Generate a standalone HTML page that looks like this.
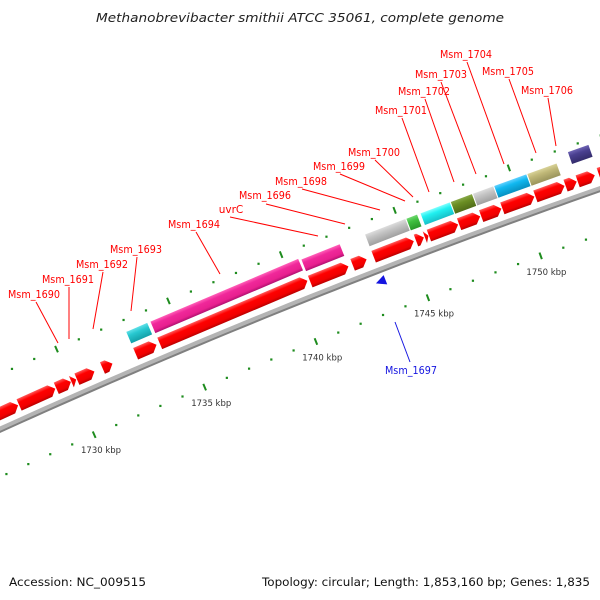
<!DOCTYPE html>
<html><head><meta charset="utf-8"><style>
html,body{margin:0;padding:0;background:#fff;}
svg{display:block;font-family:"DejaVu Sans","Liberation Sans",sans-serif;}
</style></head><body>
<svg id="chart" width="600" height="600" viewBox="0 0 600 600">
<defs>
<linearGradient id="g-red" x1="0" y1="0" x2="0" y2="1"><stop offset="0" stop-color="#ff5a5a"/><stop offset="0.3" stop-color="#ff0000"/><stop offset="0.75" stop-color="#f00000"/><stop offset="1" stop-color="#b80000"/></linearGradient>
<linearGradient id="g-pink" x1="0" y1="0" x2="0" y2="1"><stop offset="0" stop-color="#ff60b8"/><stop offset="0.3" stop-color="#f0289a"/><stop offset="0.75" stop-color="#e8208f"/><stop offset="1" stop-color="#b01070"/></linearGradient>
<linearGradient id="g-teal" x1="0" y1="0" x2="0" y2="1"><stop offset="0" stop-color="#60e0e8"/><stop offset="0.35" stop-color="#28c8d0"/><stop offset="1" stop-color="#14a0a8"/></linearGradient>
<linearGradient id="g-gray" x1="0" y1="0" x2="0" y2="1"><stop offset="0" stop-color="#dcdcdc"/><stop offset="0.35" stop-color="#c4c4c4"/><stop offset="1" stop-color="#a0a0a0"/></linearGradient>
<linearGradient id="g-green" x1="0" y1="0" x2="0" y2="1"><stop offset="0" stop-color="#70d870"/><stop offset="0.35" stop-color="#40c040"/><stop offset="1" stop-color="#289828"/></linearGradient>
<linearGradient id="g-cyan" x1="0" y1="0" x2="0" y2="1"><stop offset="0" stop-color="#80ffff"/><stop offset="0.35" stop-color="#20f0f0"/><stop offset="1" stop-color="#18c0c8"/></linearGradient>
<linearGradient id="g-olive" x1="0" y1="0" x2="0" y2="1"><stop offset="0" stop-color="#88a848"/><stop offset="0.35" stop-color="#6b8e23"/><stop offset="1" stop-color="#506c18"/></linearGradient>
<linearGradient id="g-sky" x1="0" y1="0" x2="0" y2="1"><stop offset="0" stop-color="#60d0ff"/><stop offset="0.35" stop-color="#10b8f0"/><stop offset="1" stop-color="#0890c0"/></linearGradient>
<linearGradient id="g-khaki" x1="0" y1="0" x2="0" y2="1"><stop offset="0" stop-color="#d8d298"/><stop offset="0.35" stop-color="#c0b878"/><stop offset="1" stop-color="#9a945c"/></linearGradient>
<linearGradient id="g-purple" x1="0" y1="0" x2="0" y2="1"><stop offset="0" stop-color="#6e64b4"/><stop offset="0.35" stop-color="#4a4090"/><stop offset="1" stop-color="#342c6c"/></linearGradient>
</defs>
<text x="300" y="22" text-anchor="middle" font-size="12.5" font-style="italic" fill="#222" textLength="408" lengthAdjust="spacingAndGlyphs">Methanobrevibacter smithii ATCC 35061, complete genome</text>
<g id="ticks"></g>
<g id="backbone"></g>
<g id="genes"></g>
<g id="labels"></g>
<text x="9" y="586" font-size="11.5" fill="#111" textLength="137" lengthAdjust="spacingAndGlyphs">Accession: NC_009515</text>
<text x="590" y="586" text-anchor="end" font-size="11.5" fill="#111" textLength="328" lengthAdjust="spacingAndGlyphs">Topology: circular; Length: 1,853,160 bp; Genes: 1,835</text>
</svg>
<script>
const cdsStart = [1726.0,1727.66,1729.34,1730.02,1730.27,1731.42,1732.91,1733.99,1740.70,1742.58,1743.51,1745.38,1745.77,1745.95,1747.28,1748.25,1749.18,1750.63,1751.95,1752.48,1753.40];
const cdsEnd   = [1727.62,1729.30,1730.00,1730.24,1731.06,1731.87,1733.85,1740.62,1742.40,1743.20,1745.29,1745.73,1745.93,1747.24,1748.21,1749.14,1750.59,1751.91,1752.44,1753.23,1754.60];
const geneStart = [1732.91,1733.99,1740.70,1743.51,1745.33,1745.95,1747.28,1748.25,1749.18,1750.63,1752.50];
const geneEnd   = [1733.85,1740.62,1742.40,1745.29,1745.80,1747.24,1748.21,1749.14,1750.59,1751.91,1753.40];
const geneCategory = ['teal','pink','pink','gray','green','cyan','olive','gray','sky','khaki','purple'];
const reverseStart = [1743.20];
const reverseEnd = [1743.62];
const tickKbp = [1725,1726,1727,1728,1729,1730,1731,1732,1733,1734,1735,1736,1737,1738,1739,1740,1741,1742,1743,1744,1745,1746,1747,1748,1749,1750,1751,1752,1753,1754,1755,1756];
const tickLabels = ['1730 kbp','1735 kbp','1740 kbp','1745 kbp','1750 kbp'];
const tickLabelKbp = [1730,1735,1740,1745,1750];

const NS='http://www.w3.org/2000/svg';
const GENOME_KBP=1853.16, DPK=360/GENOME_KBP, R0=7137, A0=-22.8, K0=1735;
const CX=188+R0*Math.sin(-A0*Math.PI/180), CY=347.5+R0*Math.cos(A0*Math.PI/180);
const PXK=R0*DPK*Math.PI/180;
function ang(k){return A0+(k-K0)*DPK;}
function pt(k,v){const a=ang(k)*Math.PI/180,r=R0+v;return [CX+r*Math.sin(a),CY-r*Math.cos(a)];}
function mk(tag,attrs,parent){const e=document.createElementNS(NS,tag);for(const k in attrs)e.setAttribute(k,attrs[k]);parent.appendChild(e);return e;}

// backbone
const bb=document.getElementById('backbone');
let d1='',d2='';
for(let k=1724;k<=1757;k+=0.5){const p=pt(k,0.5),q=pt(k,-2);d1+=(d1?'L':'M')+p[0].toFixed(2)+' '+p[1].toFixed(2);d2+=(d2?'L':'M')+q[0].toFixed(2)+' '+q[1].toFixed(2);}
const bl=mk('path',{d:d1,stroke:'#b4b4b4','stroke-width':5,fill:'none'},bb);


const bs=mk('path',{d:d2,stroke:'#808080','stroke-width':2,fill:'none'},bb);



// ticks
const tg=document.getElementById('ticks');
tickKbp.forEach(k=>{
  [[-43,'inner'],[50.5,'outer']].forEach(([v,ring])=>{
    let e;
    if(k%5===0){const a=pt(k,v-3.5),b=pt(k,v+3.5);e=mk('line',{x1:a[0],y1:a[1],x2:b[0],y2:b[1],stroke:'#1e8c1e','stroke-width':2},tg);}
    else{const c=pt(k,v);e=mk('rect',{x:c[0]-1.1,y:c[1]-1.1,width:2.2,height:2.2,fill:'#1e8c1e'},tg);}
    
    
  });
});
tickLabelKbp.forEach((k,i)=>{
  const c=pt(k,-60);
  const t=mk('text',{x:c[0],y:c[1]+3,'text-anchor':'middle','font-size':8.5,fill:'#333'},tg);
  t.textContent=tickLabels[i];
  
  
});

// genes
const gg=document.getElementById('genes');
function geneGroup(k1){const p=pt(k1,0);const g=mk('g',{transform:'translate('+p[0].toFixed(2)+','+p[1].toFixed(2)+') rotate('+ang(k1).toFixed(4)+')'},gg);return g;}
cdsStart.forEach((k1,i)=>{
  const k2=cdsEnd[i];const L=(k2-k1)*PXK;const top=-21,bot=-8.5,mid=(top+bot)/2;
  const h=Math.min(6,L);
  const g=geneGroup(k1);
  
  
  const pts=L>h?[[0,top],[L-h,top],[L,mid],[L-h,bot],[0,bot]]:[[0,top],[L,mid],[0,bot]];
  mk('polygon',{points:pts.map(p=>p[0].toFixed(2)+','+p[1]).join(' '),fill:'url(#g-red)'},g);
});
geneStart.forEach((k1,i)=>{
  const k2=geneEnd[i];const L=(k2-k1)*PXK;
  const off=geneCategory[i]==='purple'?7:0;
  const g=geneGroup(k1);
  
  
  mk('rect',{x:0,y:-38.5-off,width:L.toFixed(2),height:12.5,fill:'url(#g-'+geneCategory[i]+')'},g);
});
reverseStart.forEach((k1,i)=>{
  const k2=reverseEnd[i];const L=(k2-k1)*PXK;
  const g=geneGroup(k1);
  
  
  mk('polygon',{points:'0,11 '+L.toFixed(2)+',6 '+L.toFixed(2)+',16',fill:'#1414e0'},g);
});

// labels
const labelText=['Msm_1690','Msm_1691','Msm_1692','Msm_1693','Msm_1694','uvrC','Msm_1696','Msm_1698','Msm_1699','Msm_1700','Msm_1701','Msm_1702','Msm_1703','Msm_1704','Msm_1705','Msm_1706','Msm_1697'];
const labelX=[34,68,102,136,194,231,265,301,339,374,401,424,441,466,508,547,411];
const labelY=[298,283,268,253,228,213,199,185,170,156,114,95,78,58,75,94,374];
const lineFrom=[[36,302],[69,287],[103,272],[137,257],[196,232],[230,217],[266,204],[302,189],[340,174],[375,160],[402,118],[425,99],[441,82],[467,62],[509,79],[548,98],[395,322]];
const lineTo=[[58,343],[69,339],[93,329],[131,311],[220,274],[318,236],[345,224],[380,210],[405,201],[413,197],[429,192],[454,182],[476,174],[504,164],[536,153],[556,146],[410,362]];
const lg=document.getElementById('labels');
labelText.forEach((s,i)=>{
  const col=s==='Msm_1697'?'#1414e0':'#ff0000';
  const ln=mk('line',{x1:lineFrom[i][0],y1:lineFrom[i][1],x2:lineTo[i][0],y2:lineTo[i][1],stroke:col,'stroke-width':1},lg);
  
  
  const t=mk('text',{x:labelX[i],y:labelY[i],'text-anchor':'middle','font-size':10.5,fill:col},lg);
  if(s.length===8){t.setAttribute('textLength','52');t.setAttribute('lengthAdjust','spacingAndGlyphs');}
  t.textContent=s;
  
  
});
</script>
</body></html>
